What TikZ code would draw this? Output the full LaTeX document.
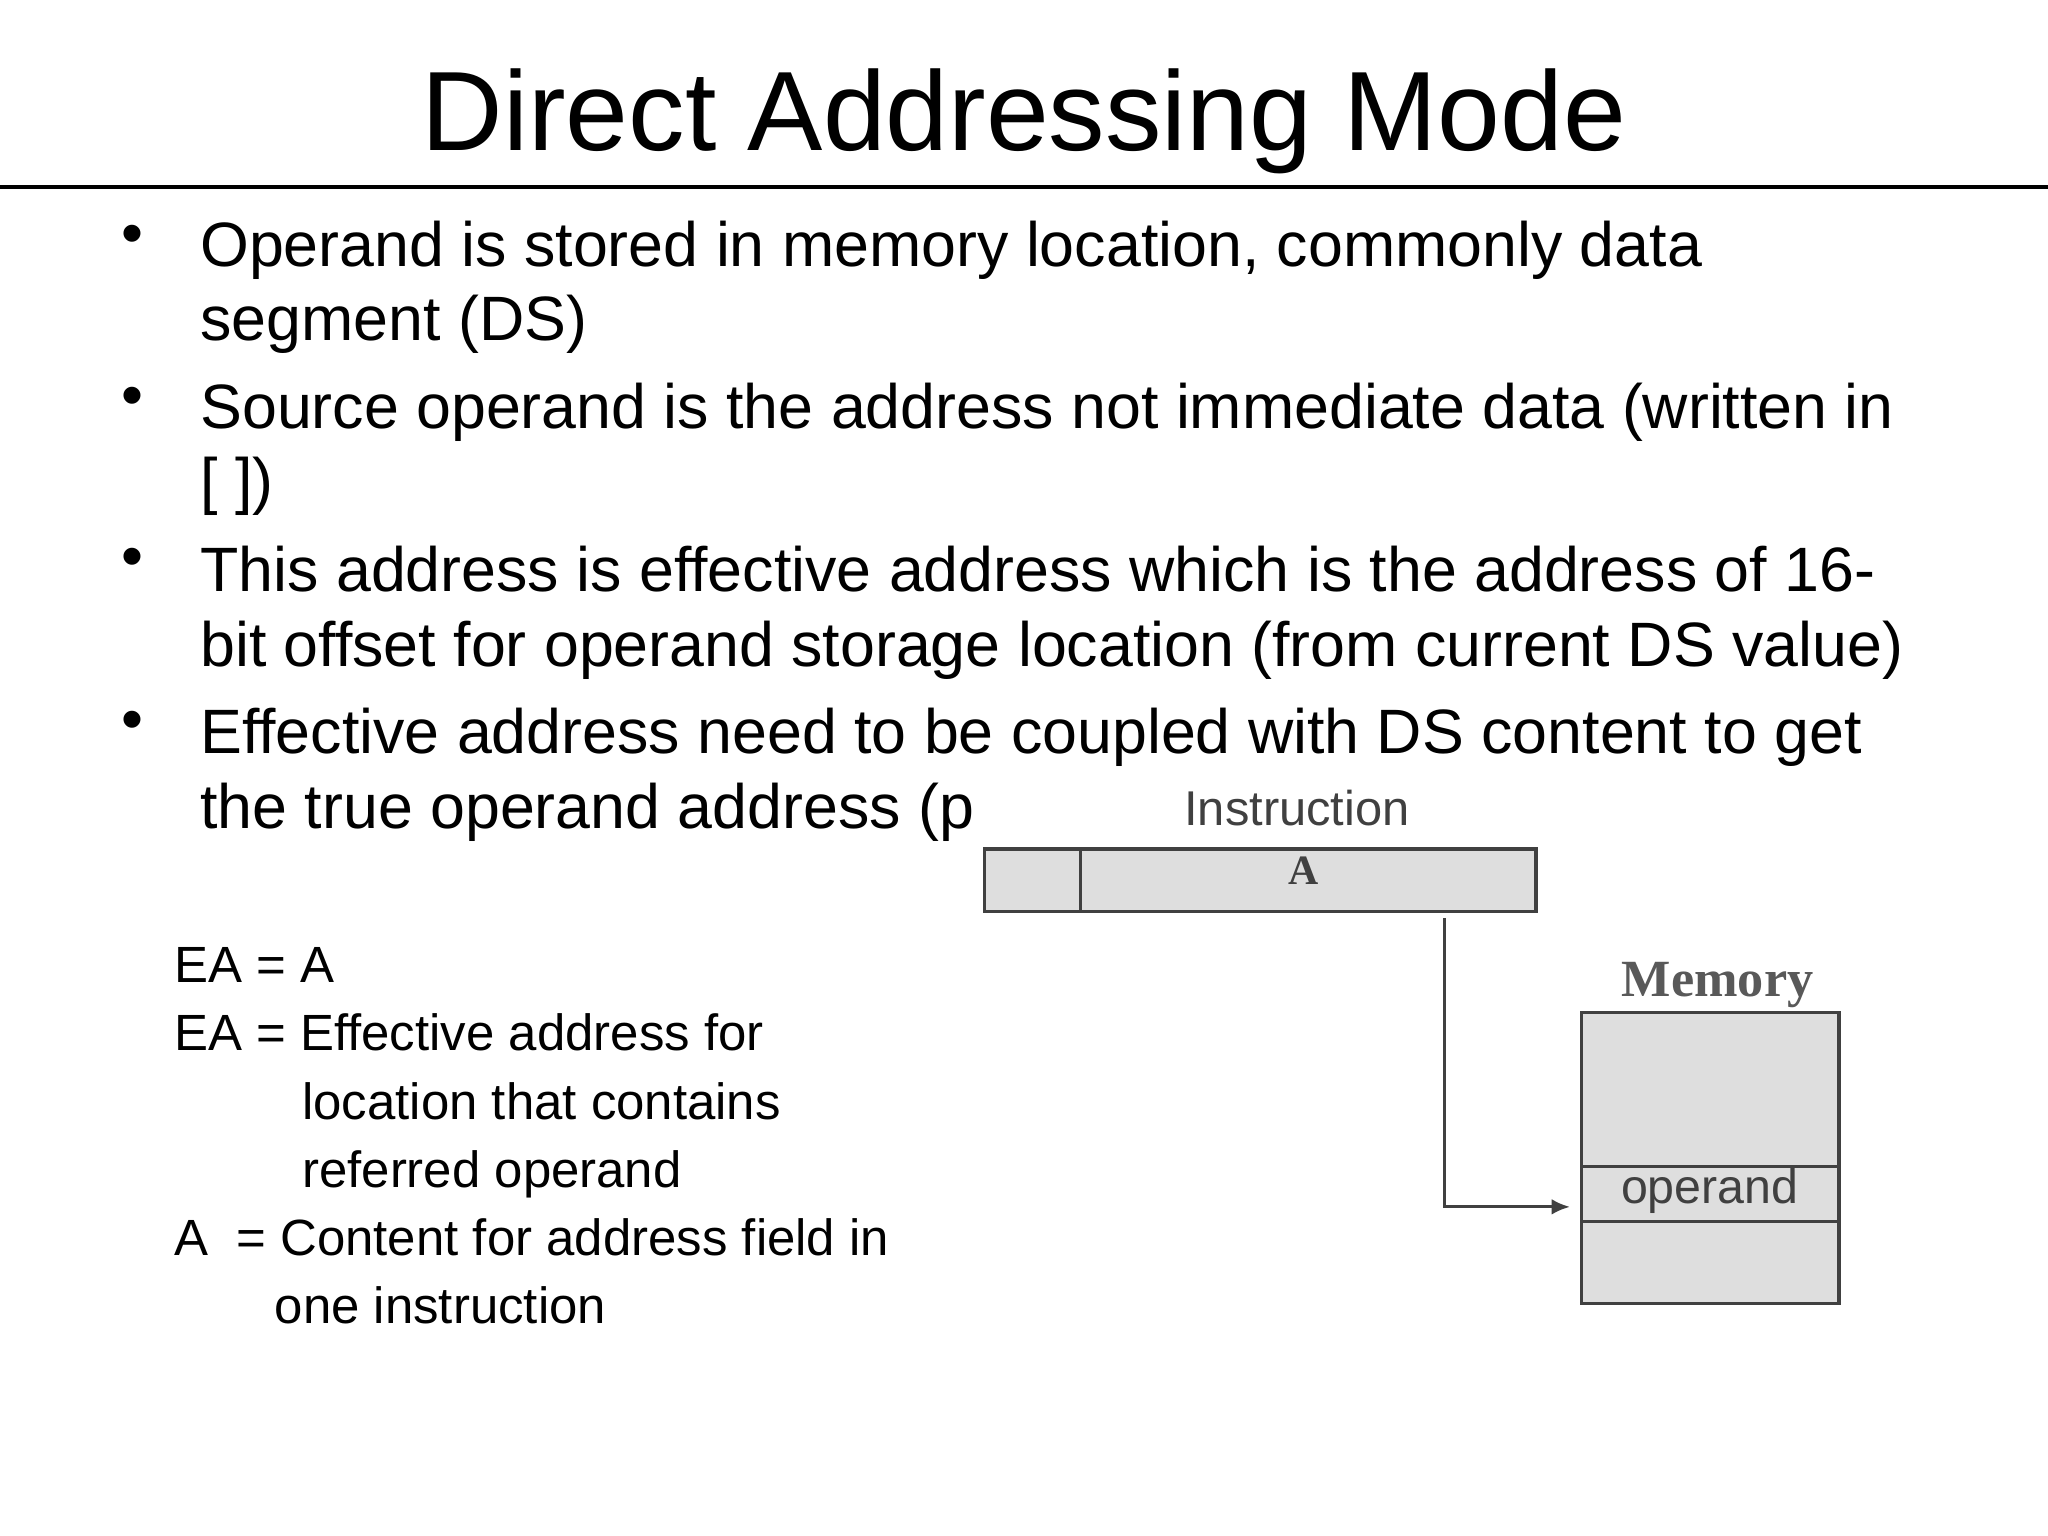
\documentclass[tikz,border=0pt]{standalone}
\usepackage{fontspec}
\setmainfont{Liberation Sans}
\newfontfamily\serifmem{Liberation Serif}
\usetikzlibrary{arrows.meta}
\begin{document}
\begin{tikzpicture}[x=0.5pt,y=-0.5pt,
  txt/.style={anchor=base west,inner sep=0pt,font=\fontsize{24}{24}\selectfont},
  low/.style={anchor=base west,inner sep=0pt,font=\fontsize{19.5}{19.5}\selectfont},
  box/.style={draw=black!75,line width=1.2pt,fill=black!13}]
\useasboundingbox (0,0) rectangle (1568,1176);
\fill[white] (0,0) rectangle (1568,1176);
\node[anchor=base,inner sep=0pt,font=\fontsize{43.2}{43.2}\selectfont] (title) at (784,115) {Direct Addressing Mode};
\draw[line width=1.5pt] (0,143) -- (1568,143);
\foreach \y in {195,319,442,567} \node[txt] at (93,\y) {\textbullet};
\node[txt] (b1) at (153,204) {Operand is stored in memory location, commonly data};
\node[txt] (b1b) at (153,261) {segment (DS)};
\node[txt] (b2) at (153,328) {Source operand is the address not immediate data (written in};
\node[txt] (b2b) at (153,385) {[ ])};
\node[txt] (b3) at (153,453) {This address is effective address which is the address of 16-};
\node[txt] (b3b) at (153,510) {bit offset for operand storage location (from current DS value)};
\node[txt] (b4) at (153,577) {Effective address need to be coupled with DS content to get};
\node[txt] (b4b) at (153,634) {the true operand address (p};
\fill[white] (748,598) rectangle (1430,705);
\node[low] at (133,752) {EA = A};
\node[low] at (133,804) {EA = Effective address for};
\node[low] at (231,857) {location that contains};
\node[low] at (231,909) {referred operand};
\node[low] at (133,961) {A\ \ = Content for address field in};
\node[low] at (210,1013) {one instruction};
% diagram
\node[inner sep=0pt,font=\fontsize{18.7}{18.7}\selectfont,text=black!75] (ilab) at (993,619) {Instruction};
\draw[box] (754,650) rectangle (1176,698);
\draw[black!75,line width=1.2pt] (827,650) -- (827,698);
\node[inner sep=0pt,font=\serifmem\bfseries\fontsize{16}{16}\selectfont,text=black!75] (A) at (998,667) {A};
\node[inner sep=0pt,font=\serifmem\bfseries\fontsize{20}{20}\selectfont,text=black!65] (mlab) at (1315,754) {Memory};
\draw[box] (1211,775) rectangle (1408,998);
\draw[black!75,line width=1.2pt] (1211,893) -- (1408,893) (1211,935) -- (1408,935);
\node[inner sep=0pt,font=\fontsize{18.5}{18.5}\selectfont,text=black!75] (op) at (1309,912) {operand};
\coordinate (s) at (1106,703);
\coordinate (t) at (1202,924);
\draw[black!75,line width=1.2pt,-{Latex[length=7pt,width=6pt]}] (s) |- (t);
\end{tikzpicture}
\end{document}
